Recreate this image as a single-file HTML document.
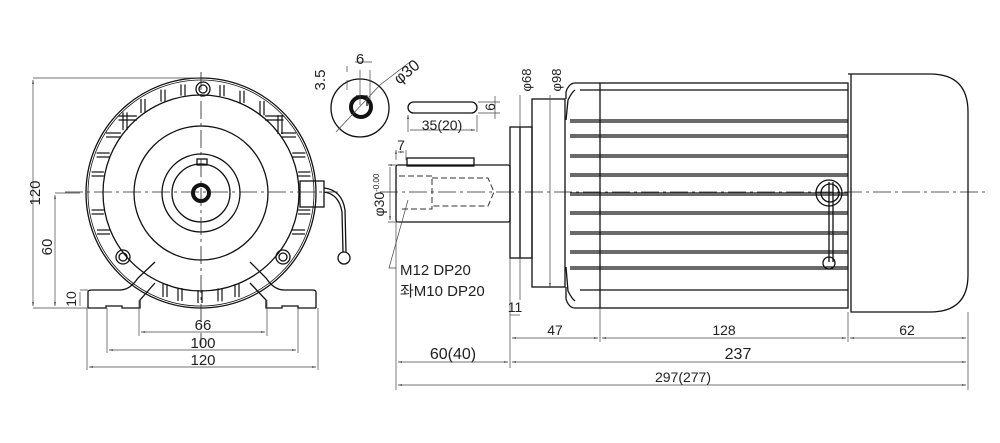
<!DOCTYPE html>
<html><head><meta charset="utf-8"><style>
html,body{margin:0;padding:0;background:#fff}
svg{display:block}
text{font-family:"Liberation Sans","Noto Sans CJK KR",sans-serif;fill:#222}
</style></head><body>
<svg id="s" width="1000" height="443" viewBox="0 0 1000 443" xmlns="http://www.w3.org/2000/svg">
<defs><marker id="a" viewBox="0 0 10 10" refX="10" refY="5" markerWidth="6" markerHeight="6" orient="auto-start-reverse"><path d="M0,3 L10,5 L0,7z" fill="#222"/></marker></defs>
<g fill="none" stroke="#111" stroke-width="1.3">
<circle cx="201" cy="193" r="115"/>
<circle cx="201" cy="193" r="113" stroke-width="0.8"/>
<circle cx="201" cy="193" r="98"/>
<circle cx="201" cy="193" r="67"/>
<circle cx="201" cy="193" r="39"/>
<circle cx="201" cy="193" r="29"/>
<circle cx="201" cy="193" r="8" stroke-width="4"/>
<rect x="197" y="159" width="10" height="6"/>
<circle cx="203" cy="89" r="7"/><circle cx="203" cy="89" r="4"/>
<circle cx="123" cy="257" r="7"/><circle cx="123" cy="257" r="4"/>
<circle cx="283" cy="257" r="7"/><circle cx="283" cy="257" r="4"/>
<path d="M88,308 L88,292 Q88,290 92,290 L120,290 Q130,290 138,278 L155,262"/>
<path d="M316,308 L316,292 Q316,290 312,290 L284,290 Q274,290 266,278 L250,262"/>
<path d="M88,308 L106,308 L106,306 L122,306 L122,308 L140,308 L140,300 L155,283"/>
<path d="M316,308 L298,308 L298,306 L282,306 L282,308 L266,308 L266,300 L250,283"/>
<rect x="300" y="181" width="24" height="26"/>
<path d="M324,188 Q342,190 345,210 L346,252 M324,192 Q339,194 342,212 L343,252"/>
<circle cx="344" cy="258" r="6"/>
<g id="fins" stroke-width="1.2"></g>
</g>
<g stroke="#222" stroke-width="0.8" stroke-dasharray="18,4,3,4" fill="none">
<path d="M65,192 H338"/><path d="M201,72 V345"/>
<path d="M380,192 H985"/>
</g>
<g stroke="#444" stroke-width="0.7" fill="none">
<path d="M33,78 H200 M33,308 H88 M55,193 H80 M80,290 H88"/>
<path d="M33,80 V306" marker-start="url(#a)" marker-end="url(#a)"/>
<path d="M55,195 V306" marker-start="url(#a)" marker-end="url(#a)"/>
<path d="M80,292 V306"/>
<path d="M139,300 V336 M267,300 V336 M107,308 V353 M298,308 V353 M87,308 V370 M318,308 V370"/>
<path d="M141,332 H265" marker-start="url(#a)" marker-end="url(#a)"/>
<path d="M109,350 H296" marker-start="url(#a)" marker-end="url(#a)"/>
<path d="M89,367 H316" marker-start="url(#a)" marker-end="url(#a)"/>
</g>
<text x="40" y="193" font-size="15" transform="rotate(-90 40 193)" text-anchor="middle">120</text>
<text x="55" y="250" font-size="15" transform="rotate(-90 52 250)" text-anchor="middle">60</text>
<text x="76" y="299" font-size="14" transform="rotate(-90 76 299)" text-anchor="middle">10</text>
<text x="203" y="330" font-size="15" text-anchor="middle">66</text>
<text x="203" y="348" font-size="15" text-anchor="middle">100</text>
<text x="203" y="365" font-size="15" text-anchor="middle">120</text>
<g fill="none" stroke="#111" stroke-width="1.3">
<circle cx="360" cy="108" r="29"/><circle cx="361" cy="107" r="10" stroke-width="4"/>
<path d="M356,96 H367 V106"/>
<rect x="408" y="102" width="69" height="11" rx="5.5"/>
<rect x="396" y="165" width="114" height="57" rx="2"/>
<rect x="407" y="158" width="67" height="8"/>
<rect x="510" y="127" width="10" height="131"/>
<rect x="520" y="127" width="12" height="131"/>
<rect x="532" y="99" width="33" height="188"/>
<path d="M600,83 H575 C570,83 567,88 566,92 L566,99 M575,90 C572,92 570,96 568,100 L566,120 M600,308 H575 C570,308 567,303 566,299 L566,287 M575,301 C572,299 570,295 568,291 L566,267"/>
<rect x="600" y="83" width="248" height="225"/>
<path d="M848,74 H930 Q968,74 968,112 V275 Q968,312 930,312 H851 V74"/>
<path d="M829,182 V262 M833,182 V262"/>
<circle cx="829" cy="193" r="13"/><circle cx="830" cy="193" r="9"/>
<circle cx="829" cy="263" r="6"/>
</g>
<g fill="none" stroke="#333" stroke-width="1" stroke-dasharray="6,3">
<path d="M399,176 H432 V209 H399 M432,178 H488 L494,192 L488,206 H432"/>
</g>
<g id="rfins" fill="none" stroke="#111" stroke-width="1.2"></g>
<g stroke="#444" stroke-width="0.7" fill="none">
<path d="M347,66 V72 M347,80 V90 M360,70 V105 M370,70 V100 M355,62 H372 M380,85 L336,132 M380,85 L410,62"/>
<path d="M408,115 V132 M477,115 V132 M410,130 H475" marker-start="url(#a)" marker-end="url(#a)"/>
<path d="M478,102 H500 M478,113 H500 M495,96 V119"/>
<path d="M396,150 V160 M406,150 V160 M398,152 H404" marker-start="url(#a)" marker-end="url(#a)"/>
<path d="M388,165 H398 M388,222 H398 M390,167 V220" marker-start="url(#a)" marker-end="url(#a)"/>
<path d="M408,200 L389,268 H396"/>
<path d="M520,95 V258 M550,95 V287" marker-end="url(#a)"/>
<path d="M520,258 V300 M396,222 V390 M510,258 V368 M968,312 V390 M600,308 V342 M848,312 V342"/>
<path d="M512,338 H598" marker-start="url(#a)" marker-end="url(#a)"/>
<path d="M602,338 H846" marker-start="url(#a)" marker-end="url(#a)"/>
<path d="M850,338 H966" marker-start="url(#a)" marker-end="url(#a)"/>
<path d="M398,362 H508" marker-start="url(#a)" marker-end="url(#a)"/>
<path d="M512,362 H966" marker-start="url(#a)" marker-end="url(#a)"/>
<path d="M398,385 H966" marker-start="url(#a)" marker-end="url(#a)"/>
<path d="M510,315 H520"/>
</g>
<text x="360" y="64" font-size="15" text-anchor="middle">6</text>
<text x="325" y="80" font-size="15" transform="rotate(-90 325 80)" text-anchor="middle">3.5</text>
<text x="410" y="76" font-size="16" transform="rotate(-40 410 76)" text-anchor="middle">φ30</text>
<text x="495" y="107" font-size="14" transform="rotate(-90 495 107)" text-anchor="middle">6</text>
<text x="442" y="130" font-size="14" text-anchor="middle">35(20)</text>
<text x="401" y="150" font-size="14" text-anchor="middle">7</text>
<text x="384" y="195" font-size="14" transform="rotate(-90 384 195)" text-anchor="middle">φ30<tspan font-size="8" dy="-5">-0.00</tspan></text>
<text x="400" y="275" font-size="15">M12 DP20</text>
<text x="400" y="296" font-size="15">좌M10 DP20</text>
<text x="519" y="92" font-size="13" transform="rotate(-90 519 80)" text-anchor="middle">φ68</text>
<text x="549" y="92" font-size="13" transform="rotate(-90 549 80)" text-anchor="middle">φ98</text>
<text x="515" y="312" font-size="14" text-anchor="middle">11</text>
<text x="555" y="335" font-size="14" text-anchor="middle">47</text>
<text x="724" y="335" font-size="14" text-anchor="middle">128</text>
<text x="907" y="335" font-size="14" text-anchor="middle">62</text>
<text x="453" y="359" font-size="16" text-anchor="middle">60(40)</text>
<text x="738" y="359" font-size="16" text-anchor="middle">237</text>
<text x="683" y="382" font-size="14" text-anchor="middle">297(277)</text>
</svg>
<script>
var ns="http://www.w3.org/2000/svg";
function L(g,x1,y1,x2,y2){var l=document.createElementNS(ns,"line");l.setAttribute("x1",x1);l.setAttribute("y1",y1);l.setAttribute("x2",x2);l.setAttribute("y2",y2);g.appendChild(l);}
var f=document.getElementById("fins");
[125,143,163,183,222,242,262,280].forEach(function(x){var dy=Math.sqrt(113*113-(x-201)*(x-201));var dy2=Math.sqrt(Math.max(98*98-(x-201)*(x-201),0));L(f,x-2,193-dy+3,x-2,193-dy2-1);L(f,x+2,193-dy+3,x+2,193-dy2-1);});
[118,135,155,174,212,232].forEach(function(y){var d=y-193;var a=Math.sqrt(113*113-d*d),b=Math.sqrt(98*98-d*d);L(f,201-a+2,y-2,201-b-1,y-2);L(f,201-a+2,y+2,201-b-1,y+2);L(f,201+b+1,y-2,201+a-2,y-2);L(f,201+b+1,y+2,201+a-2,y+2);});
[165,180,200,220,237].forEach(function(x){var dy=Math.sqrt(113*113-(x-201)*(x-201));L(f,x-2,193+dy-3,x-2,193+dy-16);L(f,x+2,193+dy-3,x+2,193+dy-16);});
var r=document.getElementById("rfins");
L(r,580,90,848,90);
[120,135,155,174,193,212,232,251,267].forEach(function(y){L(r,570,y,848,y);L(r,570,y+2,848,y+2);});
L(r,580,290,848,290);
</script>
</body></html>
